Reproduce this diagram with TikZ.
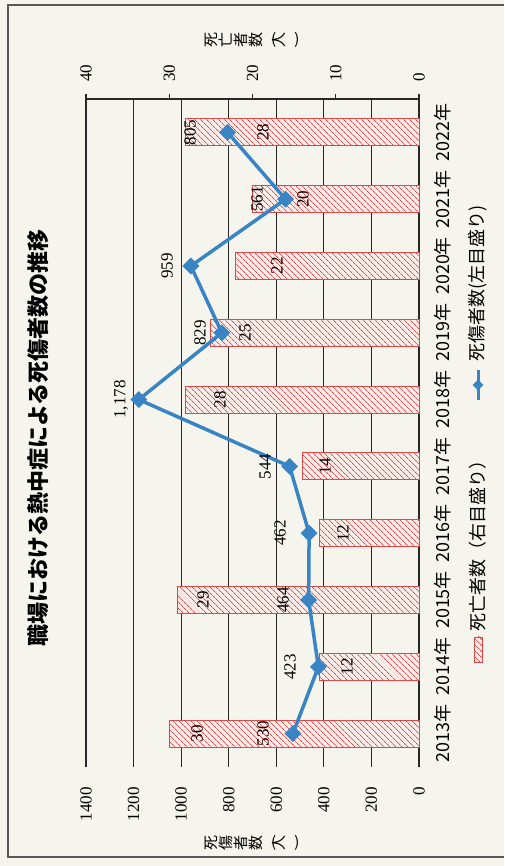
\documentclass[tikz,border=0pt]{standalone}
\usepackage{fontspec}
\usepackage{graphicx}
\setmainfont{Liberation Serif}
\newfontfamily\jp{Noto Sans CJK JP}
\usetikzlibrary{patterns.meta,shapes.geometric}
\definecolor{paper}{RGB}{246,245,237}
\definecolor{barred}{RGB}{220,72,72}
\definecolor{barpink}{RGB}{250,236,232}
\definecolor{casblue}{RGB}{56,132,196}
\definecolor{gridgray}{RGB}{40,40,40}
\newcommand{\vparen}[1]{\rotatebox{-90}{#1}}

\begin{document}
\begin{tikzpicture}[rotate=90, transform shape, x=1pt, y=1pt,
    every node/.style={inner sep=0pt},
    gridline/.style={gridgray, line width=1.1pt},
    deathbar/.style={draw=barred, line width=0.9pt, preaction={fill=barpink},
      pattern={Lines[angle=-45,distance=4pt,line width=0.7pt]}, pattern color=barred},
    casline/.style={casblue, line width=3.5pt, line join=round},
    casmark/.style={diamond, fill=casblue, minimum size=17pt},
    numlbl/.style={font=\fontsize{17}{17}\selectfont},
    jplbl/.style={font=\jp\fontsize{18}{18}\selectfont},
    axtitle/.style={align=center, font=\jp\fontsize{15}{15}\selectfont}]

\fill[paper] (0,0) rectangle (866,504);
\draw[gray!70!black, line width=1.5pt] (9,0) -- (9,496) -- (861,496) -- (861,0);

\node[font=\jp\bfseries\fontsize{22}{22}\selectfont] (title) at (428,466) {職場における熱中症による死傷者数の推移};

\foreach \k in {0,...,7}{
  \draw[gridline] (99,85+\k*47.571) -- (767,85+\k*47.571);
  \pgfmathtruncatemacro\lv{200*\k}
  \node[numlbl, anchor=east] (l\k) at (79,85+\k*47.571) {\lv};
}
\draw[gridline] (767,85) -- (767,418);
\foreach \t in {0,10,...,40}{
  \draw[gridline] (767,85+\t*8.325) -- (772,85+\t*8.325);
  \node[numlbl, anchor=west] (r\t) at (784,85+\t*8.325) {\t};
}

\node[axtitle] (ltitle) at (23,252) {死\\傷\\者\\数\\[-5pt]\vparen{(}\\[-5pt]人\\[-5pt]\vparen{)}};
\node[axtitle] (rtitle) at (826,252) {死\\亡\\者\\数\\[-5pt]\vparen{(}\\[-5pt]人\\[-5pt]\vparen{)}};

\foreach \i/\d/\c/\dv in {0/30/530/307, 1/12/423/157, 2/29/464/301, 3/12/462/161, 4/14/544/179,
    5/28/1178/284, 6/25/829/259, 7/22/959/227, 8/20/561/201, 9/28/805/241}{
  \pgfmathsetmacro\u{99+66.8*(\i+0.5)}
  \pgfmathtruncatemacro\yr{2013+\i}
  \draw[deathbar] (\u-13.5,85) rectangle (\u+13.5,85+\d*8.325);
  \node[numlbl] (d\i) at (\u,\dv) {\d};
  \node[jplbl] (y\i) at (\u,61) {\yr{}年};
  \coordinate (p\i) at (\u,85+\c*0.23786);
}
\draw[casline] (p0) \foreach \i in {1,...,9}{ -- (p\i)};
\foreach \i/\cv/\ct in {0/241/530, 1/214/423, 2/221/464, 3/224/462, 4/239/544,
    5/383/{1,178}, 6/304/829, 7/337/959, 8/247/561, 9/314/805}{
  \pgfmathsetmacro\u{99+66.8*(\i+0.5)}
  \node[casmark] (m\i) at (p\i) {};
  \node[numlbl] (c\i) at (\u,\cv) {\ct};
}

\draw[deathbar] (204,22) rectangle (229,30);
\node[jplbl, anchor=west] (lgd) at (234,26) {死亡者数（右目盛り）};
\coordinate (la) at (466,26);
\coordinate (lb) at (496,26);
\draw[casline, line width=3pt] (la) -- (lb);
\node[casmark, minimum size=11pt] (lgm) at (481,26) {};
\node[jplbl, anchor=west] (lgc) at (504,26) {死傷者数(左目盛り)};
\end{tikzpicture}
\end{document}
